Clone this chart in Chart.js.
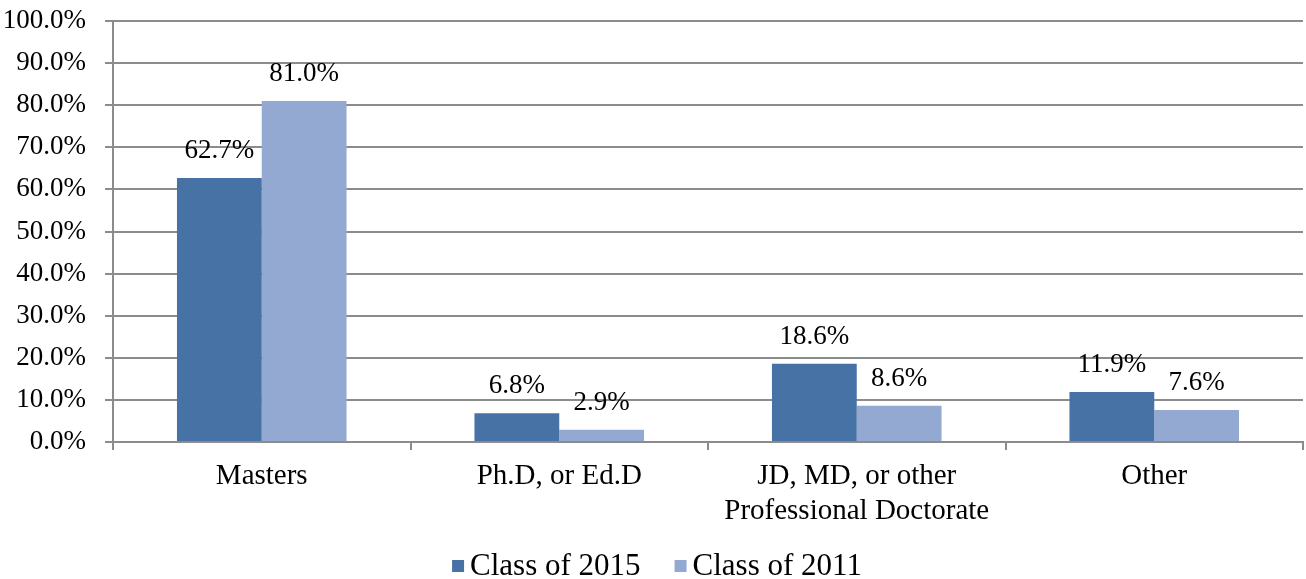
<!DOCTYPE html>
<html>
<head>
<meta charset="utf-8">
<script src="https://cdn.jsdelivr.net/npm/chart.js@4"></script>
<style>
  html, body { margin: 0; padding: 0; background: #fff; }
  #wrap { width: 1306px; height: 579px; }
</style>
</head>
<body>
<div id="wrap"><canvas id="c" width="1306" height="579"></canvas></div>
<script>
const categories = ['Masters', 'Ph.D, or Ed.D', ['JD, MD, or other', 'Professional Doctorate'], 'Other'];
const class2015 = [62.7, 6.8, 18.6, 11.9];
const class2011 = [81.0, 2.9, 8.6, 7.6];
const seriesNames = ['Class of 2015', 'Class of 2011'];
const seriesColors = ['#4672a6', '#94a9d1'];

const FONT = 'Liberation Serif';

// value labels above each bar
const barLabels = {
  id: 'barLabels',
  afterDatasetsDraw(chart) {
    const ctx = chart.ctx;
    ctx.save();
    ctx.font = '27px "' + FONT + '"';
    ctx.fillStyle = '#000';
    ctx.textAlign = 'center';
    ctx.textBaseline = 'alphabetic';
    chart.data.datasets.forEach((ds, i) => {
      chart.getDatasetMeta(i).data.forEach((bar, j) => {
        ctx.fillText(ds.data[j].toFixed(1) + '%', bar.x, bar.y - 20);
      });
    });
    ctx.restore();
  }
};

// legend drawn under the axis, Excel style
const bottomLegend = {
  id: 'bottomLegend',
  afterDraw(chart) {
    const ctx = chart.ctx;
    const ds = chart.data.datasets;
    ctx.save();
    ctx.font = '31px "' + FONT + '"';
    ctx.textBaseline = 'middle';
    const box = 12, gap = 6, between = 34;
    const widths = ds.map(d => ctx.measureText(d.label).width);
    let total = widths.reduce((a, w) => a + box + gap + w, 0) + between * (ds.length - 1);
    let x = chart.width / 2 - total / 2 + 4;
    const y = 566;
    ds.forEach((d, i) => {
      ctx.fillStyle = d.backgroundColor;
      ctx.fillRect(x, y - box / 2, box, box);
      ctx.fillStyle = '#000';
      ctx.fillText(d.label, x + box + gap, y + 1);
      x += box + gap + widths[i] + between;
    });
    ctx.restore();
  }
};

new Chart(document.getElementById('c'), {
  type: 'bar',
  data: {
    labels: categories,
    datasets: [
      { label: seriesNames[0], data: class2015, backgroundColor: seriesColors[0] },
      { label: seriesNames[1], data: class2011, backgroundColor: seriesColors[1] }
    ]
  },
  options: {
    responsive: false,
    animation: false,
    categoryPercentage: 0.57,
    barPercentage: 1,
    layout: { padding: { top: 21, right: 3, left: 0, bottom: 0 } },
    plugins: {
      legend: { display: false },
      tooltip: { enabled: false }
    },
    scales: {
      x: {
        grid: { offset: true, drawOnChartArea: false, drawTicks: true, tickLength: 8, color: '#8c8c8c', lineWidth: 2 },
        border: { color: '#8c8c8c', width: 2 },
        ticks: { font: { family: FONT, size: 29 }, color: '#000', padding: 9, maxRotation: 0 },
        afterFit: s => { s.height = 137; }
      },
      y: {
        min: 0, max: 100,
        grid: { color: '#8c8c8c', lineWidth: 2, tickLength: 8 },
        border: { color: '#8c8c8c', width: 2 },
        ticks: { stepSize: 10, font: { family: FONT, size: 27 }, color: '#000', padding: 19,
                 callback: v => v.toFixed(1) + '%' },
        afterFit: s => { s.width = 113; s.paddingTop = 0; s.paddingBottom = 0; }
      }
    }
  },
  plugins: [barLabels, bottomLegend]
});
</script>
</body>
</html>
